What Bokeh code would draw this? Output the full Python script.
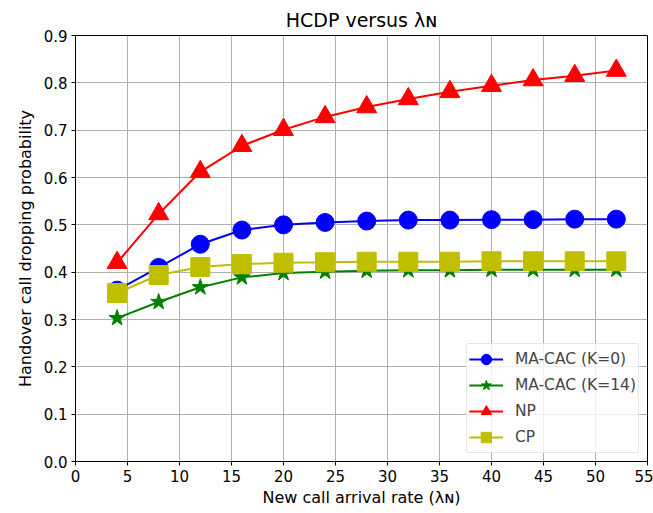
from bokeh.plotting import figure
from bokeh.models import FixedTicker, NumeralTickFormatter, Range1d, Legend, LegendItem
from bokeh.embed import file_html
from bokeh.resources import INLINE

x = [4, 8, 12, 16, 20, 24, 28, 32, 36, 40, 44, 48, 52]
macac_k0 = [0.362, 0.410, 0.459, 0.489, 0.500, 0.505, 0.508, 0.510, 0.510, 0.511, 0.511, 0.512, 0.512]
macac_k14 = [0.303, 0.337, 0.368, 0.389, 0.398, 0.401, 0.403, 0.404, 0.404, 0.405, 0.405, 0.405, 0.405]
np_vals = [0.420, 0.523, 0.612, 0.667, 0.701, 0.728, 0.749, 0.766, 0.781, 0.794, 0.806, 0.815, 0.826]
cp_vals = [0.356, 0.394, 0.411, 0.417, 0.420, 0.421, 0.422, 0.422, 0.422, 0.423, 0.423, 0.423, 0.423]

x_ticks = list(range(0, 60, 5))
y_ticks = [0.0, 0.1, 0.2, 0.3, 0.4, 0.5, 0.6, 0.7, 0.8, 0.9]

FONT = "DejaVu Sans"

p = figure(width=653, height=513, output_backend="svg", toolbar_location=None,
           x_range=Range1d(0, 55), y_range=Range1d(0, 0.9),
           title="HCDP versus λɴ",
           min_border_left=75, min_border_right=6, min_border_top=35, min_border_bottom=52)

p.title.align = "center"
p.title.text_font = FONT
p.title.text_font_size = "19px"
p.title.text_font_style = "normal"
p.title.text_color = "black"
p.title.offset = 0

p.outline_line_color = "black"
p.outline_line_width = 1
p.background_fill_color = "white"
p.border_fill_color = "white"

p.xaxis.ticker = FixedTicker(ticks=x_ticks)
p.yaxis.ticker = FixedTicker(ticks=y_ticks)
p.yaxis.formatter = NumeralTickFormatter(format="0.0")
for ax in (p.xaxis[0], p.yaxis[0]):
    ax.major_label_text_font = FONT
    ax.major_label_text_font_size = "15px"
    ax.major_label_text_color = "black"
    ax.axis_label_text_font = FONT
    ax.axis_label_text_font_size = "16px"
    ax.axis_label_text_font_style = "normal"
    ax.axis_label_text_color = "black"
    ax.minor_tick_line_color = None
    ax.major_tick_in = 0
    ax.major_tick_out = 4
    ax.major_tick_line_color = "black"
    ax.axis_line_color = "black"
    ax.major_label_standoff = 4
p.xaxis.axis_label = "New call arrival rate (λɴ)"
p.yaxis.axis_label = "Handover call dropping probability"
p.xaxis.axis_label_standoff = 3
p.yaxis.axis_label_standoff = 6

p.xgrid.grid_line_color = "#b0b0b0"
p.ygrid.grid_line_color = "#b0b0b0"
p.xgrid.grid_line_width = 1
p.ygrid.grid_line_width = 1

series = [
    ("MA-CAC (K=0)", macac_k0, "#0000ff", "circle", 18),
    ("MA-CAC (K=14)", macac_k14, "#008000", "star", 17),
    ("NP", np_vals, "#ff0000", "triangle", 20),
    ("CP", cp_vals, "#bfbf00", "square", 19),
]

items = []
for label, ys, color, marker, size in series:
    l = p.line(x, ys, line_color=color, line_width=2)
    s = p.scatter(x, ys, marker=marker, size=size, fill_color=color, line_color=color)
    items.append(LegendItem(label=label, renderers=[l, s]))

legend = Legend(items=items, location="bottom_right")
legend.label_text_font = FONT
legend.label_text_font_size = "15.5px"
legend.glyph_width = 34
legend.glyph_height = 26
legend.spacing = 0
legend.padding = 2
legend.margin = 8
legend.label_standoff = 12
legend.border_line_color = "#cccccc"
legend.border_radius = 3
legend.background_fill_alpha = 0.8
p.add_layout(legend)

open("out.html", "w").write(file_html(p, INLINE))
